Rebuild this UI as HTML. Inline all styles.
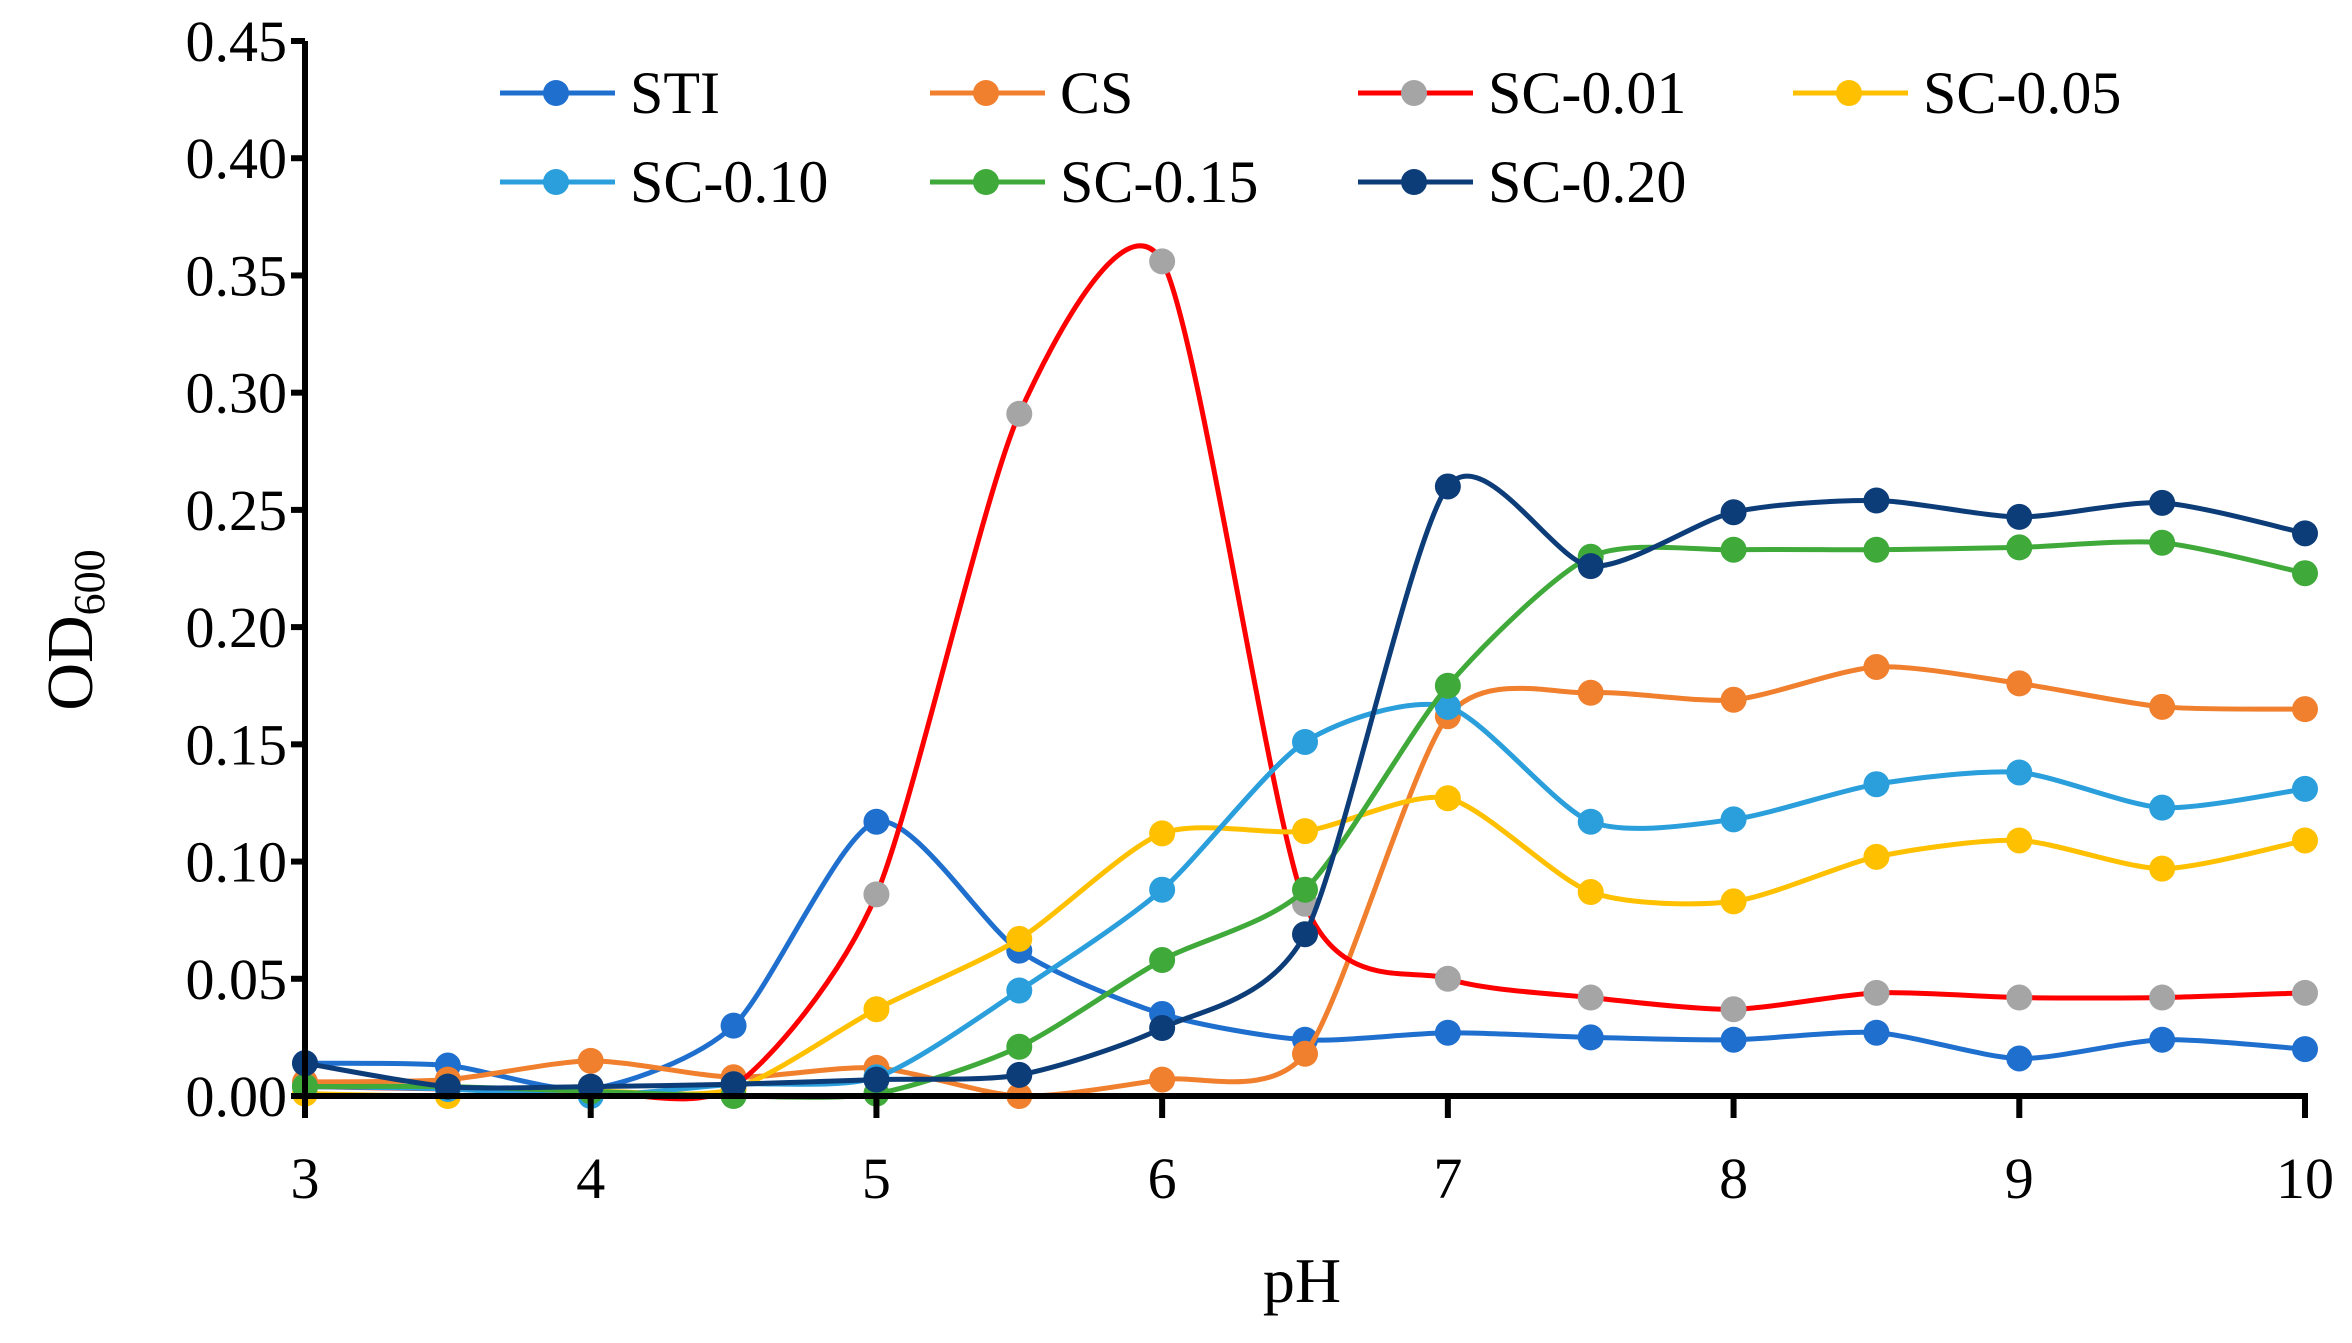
<!DOCTYPE html>
<html><head><meta charset="utf-8"><style>
html,body{margin:0;padding:0;background:#fff;}
svg{display:block;}
svg text{font-family:"Liberation Serif","Times New Roman",serif;}
</style></head><body>
<svg id="chart" width="2352" height="1343" viewBox="0 0 2352 1343" xmlns="http://www.w3.org/2000/svg" font-family="Liberation Serif, serif">
<rect width="2352" height="1343" fill="#fff"/>
<g id="series-layer"></g>
<g id="axes-layer"></g>
<g id="legend-layer"></g>
<text x="1302" y="1302" font-size="64" text-anchor="middle" font-family="Liberation Serif, serif">pH</text>
<text transform="translate(92,630) rotate(-90)" font-size="66" text-anchor="middle" font-family="Liberation Serif, serif">OD<tspan font-size="44" dy="12">600</tspan></text>
</svg>
<script>
const xValues = [3,3.5,4,4.5,5,5.5,6,6.5,7,7.5,8,8.5,9,9.5,10];
const xTicks = [3,4,5,6,7,8,9,10];
const yTicks = [0,0.05,0.10,0.15,0.20,0.25,0.30,0.35,0.40,0.45];
const seriesNames = ["STI","CS","SC-0.01","SC-0.05","SC-0.10","SC-0.15","SC-0.20"];
const sti   = [0.014,0.013,0.003,0.030,0.117,0.062,0.035,0.024,0.027,0.025,0.024,0.027,0.016,0.024,0.020];
const cs    = [0.006,0.007,0.015,0.008,0.012,0.000,0.007,0.018,0.162,0.172,0.169,0.183,0.176,0.166,0.165];
const sc001 = [0.004,0.003,0.002,0.004,0.086,0.291,0.356,0.082,0.050,0.042,0.037,0.044,0.042,0.042,0.044];
const sc005 = [0.001,0.000,0.002,0.003,0.037,0.067,0.112,0.113,0.127,0.087,0.083,0.102,0.109,0.097,0.109];
const sc010 = [0.004,0.003,0.000,0.005,0.008,0.045,0.088,0.151,0.166,0.117,0.118,0.133,0.138,0.123,0.131];
const sc015 = [0.004,0.004,0.002,0.000,0.001,0.021,0.058,0.088,0.175,0.230,0.233,0.233,0.234,0.236,0.223];
const sc020 = [0.014,0.004,0.004,0.005,0.007,0.009,0.029,0.069,0.260,0.226,0.249,0.254,0.247,0.253,0.240];

const allSeries=[sti,cs,sc001,sc005,sc010,sc015,sc020];
const lineColors=["#1f6fcf","#f07f2e","#ff0000","#ffc000","#2a9fdc","#3fa93a","#0d3d78"];
const markerColors=["#1f6fcf","#f07f2e","#a5a5a5","#ffc000","#2a9fdc","#3fa93a","#0d3d78"];
const NS="http://www.w3.org/2000/svg";
const FF="Liberation Serif, serif";
const X0=305,X1=2305,Y0=1096,Y1=41;
function sx(v){return X0+(v-3)/7*(X1-X0);}
function sy(v){return Y0-v/0.45*(Y0-Y1);}
function mk(t,a,p){const e=document.createElementNS(NS,t);for(const k in a)e.setAttribute(k,a[k]);p.appendChild(e);return e;}
const S=document.getElementById('series-layer');
const A=document.getElementById('axes-layer');
const L=document.getElementById('legend-layer');
function smooth(pts){let d=`M${pts[0][0]},${pts[0][1]}`;const k=1/8;
 for(let i=0;i<pts.length-1;i++){const p0=pts[Math.max(i-1,0)],p1=pts[i],p2=pts[i+1],p3=pts[Math.min(i+2,pts.length-1)];
 const c1=[p1[0]+(p2[0]-p0[0])*k,p1[1]+(p2[1]-p0[1])*k],c2=[p2[0]-(p3[0]-p1[0])*k,p2[1]-(p3[1]-p1[1])*k];
 d+=` C${c1[0]},${c1[1]} ${c2[0]},${c2[1]} ${p2[0]},${p2[1]}`;}return d;}
allSeries.forEach((vals,si)=>{
 const g=mk('g',{},S);
 
 
 const pts=vals.map((v,i)=>[sx(xValues[i]),sy(v)]);
 const path=mk('path',{d:smooth(pts),fill:'none',stroke:lineColors[si],'stroke-width':5},g);
 
 
 pts.forEach((p,i)=>{const c=mk('circle',{cx:p[0],cy:p[1],r:13,fill:markerColors[si]},g);
  
  });
});
const ya=mk('line',{x1:X0,y1:Y1,x2:X0,y2:Y0,stroke:'#000','stroke-width':6},A);


const xa=mk('line',{x1:X0-3,y1:Y0,x2:X1+3,y2:Y0,stroke:'#000','stroke-width':6},A);


yTicks.forEach(t=>{const y=sy(t);
 mk('line',{x1:X0-14,y1:y,x2:X0,y2:y,stroke:'#000','stroke-width':6},A);
 const tx=mk('text',{x:X0-18,y:y+20,'font-size':58,'text-anchor':'end','font-family':FF},A);tx.textContent=t.toFixed(2);
 
 });
xTicks.forEach(t=>{const x=sx(t);
 mk('line',{x1:x,y1:Y0,x2:x,y2:Y0+22,stroke:'#000','stroke-width':6},A);
 const tx=mk('text',{x:x,y:1198,'font-size':58,'text-anchor':'middle','font-family':FF},A);tx.textContent=t;
 
 });
const legX=[500,930,1358,1793],legY=[93,182];
seriesNames.forEach((n,i)=>{const x=legX[i%4],y=legY[Math.floor(i/4)];
 const g=mk('g',{},L);
 
 
 mk('line',{x1:x,y1:y,x2:x+115,y2:y,stroke:lineColors[i],'stroke-width':5},g);
 mk('circle',{cx:x+56,cy:y,r:13,fill:markerColors[i]},g);
 const t=mk('text',{x:x+130,y:y+20,'font-size':60,'font-family':FF},g);t.textContent=n;});
</script>
</body></html>
